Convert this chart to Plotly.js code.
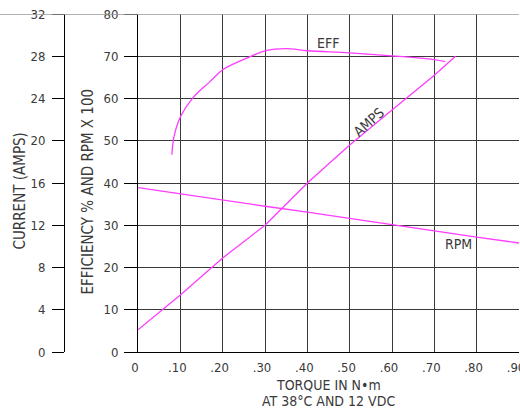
<!DOCTYPE html>
<html>
<head>
<meta charset="utf-8">
<script src="https://cdn.plot.ly/plotly-3.0.1.min.js"></script>
<style>html,body{margin:0;padding:0;background:#fff;}#chart{width:520px;height:417px;}</style>
</head>
<body>
<div id="chart"></div>
<script>
// Torque (N·m) and values (efficiency-axis scale 0-80)
var effTorque = [0.080, 0.085, 0.10, 0.13, 0.17, 0.20, 0.265, 0.30, 0.35, 0.40, 0.50, 0.60, 0.70, 0.726];
var effValues = [46.7, 50.9, 55.6, 60.2, 64.0, 66.8, 69.9, 71.3, 71.8, 71.3, 70.8, 70.1, 69.2, 68.7];

var ampsTorque = [0, 0.10, 0.20, 0.30, 0.40, 0.50, 0.60, 0.70, 0.75];
var ampsValues = [2.1, 5.4, 8.9, 12.0, 16.0, 19.6, 22.9, 26.2, 28.0]; // current in amps

var rpmTorque = [0, 0.10, 0.20, 0.30, 0.40, 0.50, 0.60, 0.70, 0.80, 0.90];
var rpmValues = [38.9, 37.4, 36.0, 34.5, 33.1, 31.6, 30.1, 28.7, 27.2, 25.8]; // RPM x 100

var xTickVals = [0, 0.1, 0.2, 0.3, 0.4, 0.5, 0.6, 0.7, 0.8, 0.9];
var xTickText = ['0', '.10', '.20', '.30', '.40', '.50', '.60', '.70', '.80', '.90'];
var effTickVals = [0, 10, 20, 30, 40, 50, 60, 70, 80];
var curTickVals = [0, 4, 8, 12, 16, 20, 24, 28, 32];

var FONT = 'DejaVu Sans Condensed, DejaVu Sans, sans-serif';
var TXT = '#3a3a3a';
var MAG = '#ff3cff';
var TS = 13;

var traces = [
  {x: effTorque, y: effValues, mode: 'lines', line: {color: MAG, width: 1.3, shape: 'spline'}, xaxis: 'x', yaxis: 'y', hoverinfo: 'skip'},
  {x: ampsTorque, y: ampsValues, mode: 'lines', line: {color: MAG, width: 1.3}, xaxis: 'x', yaxis: 'y2', hoverinfo: 'skip'},
  {x: rpmTorque, y: rpmValues, mode: 'lines', line: {color: MAG, width: 1.3}, xaxis: 'x', yaxis: 'y', hoverinfo: 'skip'}
];

var layout = {
  width: 520, height: 417,
  margin: {l: 0, r: 1, t: 14, b: 65, pad: 0},
  paper_bgcolor: '#fff', plot_bgcolor: '#fff',
  showlegend: false,
  font: {family: FONT, size: TS, color: TXT},
  xaxis: {
    domain: [138/519, 1],
    range: [0, 0.9],
    tickvals: xTickVals, ticktext: xTickText,
    showgrid: true, gridcolor: '#3a3a3a', gridwidth: 1,
    showline: true, linecolor: '#000', linewidth: 1,
    ticks: '', zeroline: false,
    tickfont: {family: FONT, size: TS, color: TXT},
    ticklabelstandoff: 3,
    ticklabelshift: -3,
    ticklabeloverflow: 'allow',
    anchor: 'y'
  },
  yaxis: {
    range: [0, 80],
    tickvals: effTickVals,
    showgrid: true, gridcolor: '#3a3a3a', gridwidth: 1,
    showline: true, linecolor: '#000', linewidth: 1,
    ticks: 'outside', ticklen: 13, tickcolor: '#000', tickwidth: 1,
    zeroline: false,
    tickfont: {family: FONT, size: TS, color: TXT},
    ticklabelstandoff: 3,
    anchor: 'x'
  },
  yaxis2: {
    range: [0, 32],
    tickvals: curTickVals,
    overlaying: 'y', anchor: 'free', side: 'left', position: 64/519,
    showgrid: false,
    showline: true, linecolor: '#000', linewidth: 1,
    ticks: 'outside', ticklen: 12, tickcolor: '#000', tickwidth: 1,
    zeroline: false,
    tickfont: {family: FONT, size: TS, color: TXT},
    ticklabelstandoff: 4
  },
  shapes: [
    {type: 'line', xref: 'paper', yref: 'y', x0: 0, x1: 1, y0: 80, y1: 80, line: {color: '#999', width: 1.5}}
  ],
  annotations: [
    {text: 'CURRENT (AMPS)', textangle: -90, xref: 'paper', yref: 'paper', x: 20/519, y: 0.475, xanchor: 'center', yanchor: 'middle', showarrow: false, font: {family: FONT, size: 15, color: TXT}},
    {text: 'EFFICIENCY % AND RPM X 100', textangle: -90, xref: 'paper', yref: 'paper', x: 88/519, y: 0.475, xanchor: 'center', yanchor: 'middle', showarrow: false, font: {family: FONT, size: 15, color: TXT}},
    {text: 'TORQUE IN N\u2022m', xref: 'x', yref: 'paper', x: 0.45, y: -0.0976, yanchor: 'middle', showarrow: false, font: {family: FONT, size: 14, color: TXT}},
    {text: 'AT 38\u00b0C AND 12 VDC', xref: 'x', yref: 'paper', x: 0.45, y: -0.145, yanchor: 'middle', showarrow: false, font: {family: FONT, size: 14, color: TXT}},
    {text: 'EFF', xref: 'x', yref: 'y', x: 0.449, y: 73.2, showarrow: false, font: {family: FONT, size: 14, color: TXT}},
    {text: 'AMPS', xref: 'x', yref: 'y', x: 0.545, y: 54.5, textangle: -42, showarrow: false, font: {family: FONT, size: 14, color: TXT}},
    {text: 'RPM', xref: 'x', yref: 'y', x: 0.756, y: 25.5, showarrow: false, font: {family: FONT, size: 14, color: TXT}}
  ]
};

Plotly.newPlot('chart', traces, layout, {staticPlot: true, displayModeBar: false});
</script>
</body>
</html>
